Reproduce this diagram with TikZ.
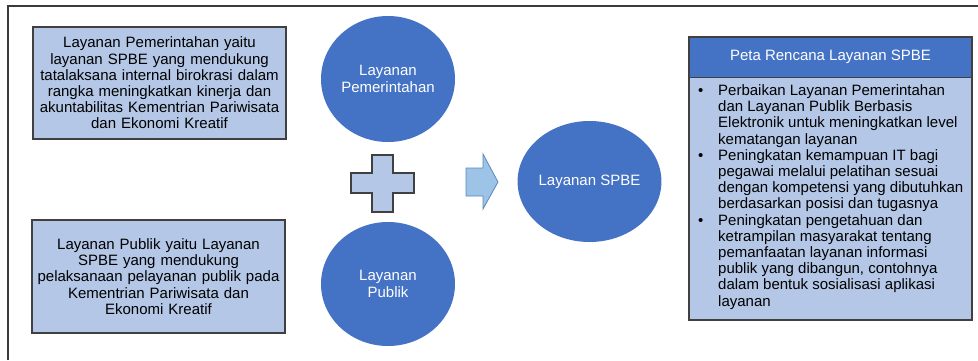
\documentclass[tikz,border=0pt]{standalone}
\usepackage{fontspec}
\setmainfont{Liberation Sans}
\usetikzlibrary{shapes.geometric}
\definecolor{circblue}{HTML}{4472C4}
\definecolor{boxblue}{HTML}{B4C7E7}
\definecolor{arrowblue}{HTML}{9DC3E6}
\definecolor{arrowedge}{HTML}{5A86C0}
\definecolor{edgegrey}{HTML}{404040}
\definecolor{framegrey}{HTML}{3A3A3A}

\begin{document}
\begin{tikzpicture}[x=1pt,y=-1pt,
  txt/.style={font=\fontsize{15}{16.2}\selectfont},
  infobox/.style={txt, draw=edgegrey, line width=1.2pt, fill=boxblue,
    inner sep=0pt, align=center},
  bubble/.style={txt, ellipse, fill=circblue, text=white, inner sep=0pt,
    align=center},
]
\useasboundingbox (0,0) rectangle (978,360);

% frame lines (top and left)
\draw[framegrey, line width=1.5pt] (8,360) -- (8,6) -- (978,6);

% description boxes
\node[infobox, minimum width=253pt, minimum height=112pt, text width=253pt]
  (pemdesc) at (159.5,83)
  {Layanan Pemerintahan yaitu\\ layanan SPBE yang mendukung\\
   tatalaksana internal birokrasi dalam\\ rangka meningkatkan kinerja dan\\
   akuntabilitas Kementrian Pariwisata\\ dan Ekonomi Kreatif};

\node[infobox, minimum width=253pt, minimum height=113pt, text width=253pt]
  (pubdesc) at (158.5,276.5)
  {Layanan Publik yaitu Layanan\\ SPBE yang mendukung\\
   pelaksanaan pelayanan publik pada\\ Kementrian Pariwisata dan\\
   Ekonomi Kreatif};

% service circles
\node[bubble, minimum width=134pt, minimum height=126pt] (pem) at (388,79)
  {Layanan\\ Pemerintahan};
\node[bubble, minimum width=134pt, minimum height=124pt] (pub) at (388,284)
  {Layanan\\ Publik};
\node[bubble, minimum width=135pt, minimum height=121pt] (spbe) at (589.5,181.5)
  {Layanan SPBE};

% plus sign
\draw[fill=boxblue, draw=edgegrey, line width=1.2pt]
  (372,155) -- (393,155) -- (393,173) -- (414,173) -- (414,193) -- (393,193)
  -- (393,212) -- (372,212) -- (372,193) -- (351,193) -- (351,173)
  -- (372,173) -- cycle;

% block arrow
\draw[fill=arrowblue, draw=arrowedge, line width=0.8pt]
  (466,168) -- (483,168) -- (483,154) -- (498,182) -- (483,209)
  -- (483,196) -- (466,196) -- cycle;

% roadmap panel
\node[fill=boxblue, draw=edgegrey, line width=1.2pt, minimum width=283pt,
  minimum height=243pt, inner sep=0pt] (mapbody) at (830.5,198.5) {};
\node[txt, fill=circblue, text=white, minimum width=283pt, minimum height=40pt,
  inner sep=0pt] (maphead) at (830.5,57) {Peta Rencana Layanan SPBE};
\draw[edgegrey, line width=1.2pt] (689,37) rectangle (972,320);

\node[txt, anchor=west, inner sep=0pt] (maplist) at (698,197.5) {%
  \begin{tabular}{@{}p{20pt}@{}l@{}}
  \textbullet & Perbaikan Layanan Pemerintahan\\
   & dan Layanan Publik Berbasis\\
   & Elektronik untuk meningkatkan level\\
   & kematangan layanan\\
  \textbullet & Peningkatan kemampuan IT bagi\\
   & pegawai melalui pelatihan sesuai\\
   & dengan kompetensi yang dibutuhkan\\
   & berdasarkan posisi dan tugasnya\\
  \textbullet & Peningkatan pengetahuan dan\\
   & ketrampilan masyarakat tentang\\
   & pemanfaatan layanan informasi\\
   & publik yang dibangun, contohnya\\
   & dalam bentuk sosialisasi aplikasi\\
   & layanan
  \end{tabular}};
\end{tikzpicture}
\end{document}
